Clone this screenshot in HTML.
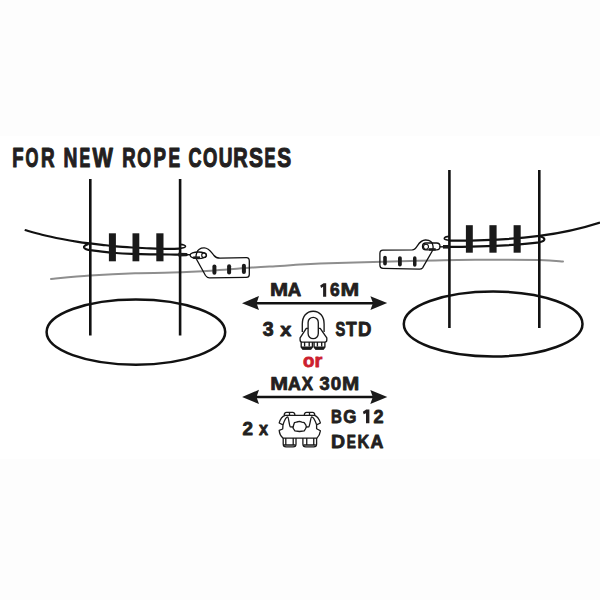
<!DOCTYPE html>
<html><head><meta charset="utf-8">
<style>
html,body{margin:0;padding:0;background:#fdfdfd;width:600px;height:600px;overflow:hidden}
svg{display:block}
text{font-family:"Liberation Sans",sans-serif;font-weight:bold;fill:#231f20;stroke:#231f20;stroke-width:0.9;stroke-linejoin:round}
</style></head><body>
<svg width="600" height="600" viewBox="0 0 600 600">
<rect width="600" height="600" fill="#fdfdfd"/>
<rect x="0" y="136" width="600" height="323" fill="#fff"/>
<!-- title -->

<!-- grey rope -->
<path d="M51.0,279.00 C57.5,278.43 76.0,276.57 90.0,275.60 C104.0,274.63 121.3,273.70 135.0,273.20 C148.7,272.70 158.7,273.07 172.0,272.60 C185.3,272.13 201.7,271.23 215.0,270.40 C228.3,269.57 241.2,268.33 252.0,267.60 C262.8,266.87 272.0,266.50 280.0,266.00 C288.0,265.50 293.3,265.00 300.0,264.60 C306.7,264.20 310.8,263.95 320.0,263.60 C329.2,263.25 340.0,262.93 355.0,262.50 C370.0,262.07 390.0,261.45 410.0,261.00 C430.0,260.55 453.5,259.97 475.0,259.80 C496.5,259.63 524.3,259.72 539.0,260.00 C553.7,260.28 559.0,261.25 563.0,261.50" fill="none" stroke="#8e8e8e" stroke-width="2" stroke-linecap="round"/>

<g fill="none" stroke="#111" stroke-linecap="butt">
<!-- ellipses -->
<ellipse cx="135.9" cy="332.1" rx="89.3" ry="32.6" stroke-width="2.5"/>
<ellipse cx="493.15" cy="324" rx="89.35" ry="32.5" stroke-width="2.5"/>
<!-- poles -->
<line x1="90.3" y1="179" x2="90.3" y2="335.5" stroke-width="2.6"/>
<line x1="180.1" y1="179" x2="180.1" y2="335.5" stroke-width="2.6"/>
<line x1="449.4" y1="170" x2="449.4" y2="328" stroke-width="2.6"/>
<line x1="539.3" y1="170" x2="539.3" y2="328" stroke-width="2.6"/>

<!-- left bracket ropes -->
<path d="M24.7,230.00 C27.6,230.78 35.8,233.20 42.0,234.70 C48.2,236.20 56.0,237.82 62.0,239.00 C68.0,240.18 73.3,241.07 78.0,241.80 C82.7,242.53 86.0,242.90 90.0,243.40 C94.0,243.90 97.7,244.30 102.0,244.80 C106.3,245.30 111.0,245.95 116.0,246.40 C121.0,246.85 126.3,247.17 132.0,247.50 C137.7,247.83 143.7,248.17 150.0,248.40 C156.3,248.63 164.8,248.88 170.0,248.90 C175.2,248.92 179.2,248.57 181.0,248.50" stroke-width="2.2"/>
<path d="M180,244.4 C183.5,244.4 185.8,245.6 185.5,246.6 C185.2,247.6 182.5,248.2 180,248.4" stroke-width="1.6"/>
<path d="M88.6,243.9 C85.5,244.8 83.6,246.2 84,247.3 C84.6,248.8 87.3,249.8 90.0,250.20 C92.0,250.43 97.7,251.13 102.0,251.60 C106.3,252.07 111.0,252.63 116.0,253.00 C121.0,253.37 126.3,253.58 132.0,253.80 C137.7,254.02 143.7,254.18 150.0,254.30 C156.3,254.42 163.8,254.45 170.0,254.50 C176.2,254.55 184.2,254.58 187.0,254.60" stroke-width="2.2"/>
<path d="M178.3,252.7 L186.5,252.9 L188,254 L188,255.2 L186.5,256.3 L178.3,256.5 Z" fill="#1a1a1a" stroke="none"/>
<path d="M186,254.7 L190.5,254.7" stroke-width="1.4"/>

<!-- right bracket ropes -->
<path d="M449.6,240.6 C490,240.9 520,238.4 539.3,235.9 C560,233.2 580,229 600,222.5" stroke-width="2.2"/>
<path d="M449.6,236.4 C443,236.8 442,240 449.6,240.2" stroke-width="1.6"/>
<path d="M443,246.9 C480,246.8 515,245.5 539.5,242.3 C546,240.8 546,237.7 539.5,236.2" stroke-width="2.2"/>
<rect x="443" y="245" width="7" height="3.6" fill="#1a1a1a" stroke="none"/>
<path d="M439.5,246.8 L443,246.8" stroke-width="1.4"/>

<!-- clamps -->
<g fill="#1a1a1a" stroke="none">
<rect x="108.9" y="233.3" width="7" height="28"/>
<rect x="132.5" y="233.3" width="6.8" height="28"/>
<rect x="156.3" y="233.3" width="7.2" height="28"/>
<rect x="465.9" y="225.2" width="6.9" height="27.5"/>
<rect x="489.4" y="225.2" width="7.2" height="27.5"/>
<rect x="513.6" y="225.2" width="7.1" height="27.5"/>
</g>

<!-- left plate -->
<path d="M196.7,253 C198,249 201,247.8 204.3,247.9 C209,248 211,252 214,255.5 C215.5,257.5 217,258.1 220,258.1 L246.5,257.6 C248.5,257.6 249.3,258.8 249.3,261 L249.3,274.5 C249.3,276.6 248.3,277.4 246.3,277.4 L209.5,277.9 C207.5,277.9 206.5,277 205.5,275.5 L196.5,259.3 C195.8,257.5 196,255 196.7,253 Z" stroke-width="1.3"/>
<ellipse cx="198.3" cy="255.3" rx="8.2" ry="3.3" stroke-width="1.3"/>
<rect x="193.2" y="256.4" width="6.8" height="2.6" fill="#1a1a1a" stroke="none"/>
<circle cx="204" cy="255.2" r="2.3" stroke-width="1.1"/>
<g fill="#1a1a1a" stroke="none">
<rect x="212.4" y="264.5" width="4" height="10.3" rx="2"/>
<rect x="227.1" y="264.2" width="4" height="10.3" rx="2"/>
<rect x="241.9" y="263.7" width="4" height="10.3" rx="2"/>
</g>

<!-- right plate -->
<path d="M433,246 C432.5,242 429.5,239.9 425.4,240 C421.5,240.1 419.5,242.5 417.5,245.6 C416,248 414.5,249.8 412.3,249.9 L383,250.1 C380.8,250.1 379.9,251.2 379.9,253.5 L379.9,265.3 C379.9,267.3 380.9,268.3 383,268.3 L419.5,269.2 C421,269.2 421.8,268.8 422.6,267.8 L432.4,250.8 C433,249.5 433.2,247.5 433,246 Z" stroke-width="1.3"/>
<rect x="422.5" y="243" width="17.5" height="6.8" rx="3.4" stroke-width="1.3"/>
<circle cx="426" cy="246.8" r="2.5" stroke-width="1.1"/>
<g fill="#1a1a1a" stroke="none">
<rect x="429" y="248.2" width="6.7" height="2.5"/>
<rect x="383.2" y="255.8" width="3.6" height="9.8" rx="1.8"/>
<rect x="398" y="256.2" width="3.8" height="10.2" rx="1.9"/>
<rect x="413" y="256.3" width="3.5" height="10.4" rx="1.75"/>
</g>

<!-- arrows -->
<line x1="252" y1="303.2" x2="377" y2="303.2" stroke-width="2.5"/>
<line x1="252" y1="397" x2="377" y2="397" stroke-width="2.5"/>
</g>
<g fill="#1a1a1a" stroke="none">
<path d="M242,303.2 L259,296 L256.6,303.2 L259,310 Z"/>
<path d="M387.2,303.1 L370.4,296.2 L373,303.1 L370.4,310 Z"/>
<path d="M242.1,397 L259,389.8 L256.5,397 L259,404 Z"/>
<path d="M387.3,397 L370.3,389.9 L372.8,397 L370.3,404.1 Z"/>
</g>

<!-- texts -->
<text vector-effect="non-scaling-stroke" transform="translate(12.16,166.80) scale(0.6872,1)" font-size="26.96" style="stroke-width:1.00;fill:#231f20;stroke:#231f20">F</text>
<text vector-effect="non-scaling-stroke" transform="translate(25.62,166.80) scale(0.6138,1)" font-size="26.96" style="stroke-width:1.00;fill:#231f20;stroke:#231f20">O</text>
<text vector-effect="non-scaling-stroke" transform="translate(40.94,166.80) scale(0.7011,1)" font-size="26.96" style="stroke-width:1.00;fill:#231f20;stroke:#231f20">R</text>
<text vector-effect="non-scaling-stroke" transform="translate(63.61,166.80) scale(0.7129,1)" font-size="26.96" style="stroke-width:1.00;fill:#231f20;stroke:#231f20">N</text>
<text vector-effect="non-scaling-stroke" transform="translate(79.43,166.80) scale(0.5950,1)" font-size="26.96" style="stroke-width:1.00;fill:#231f20;stroke:#231f20">E</text>
<text vector-effect="non-scaling-stroke" transform="translate(92.48,166.80) scale(0.7993,1)" font-size="26.96" style="stroke-width:1.00;fill:#231f20;stroke:#231f20">W</text>
<text vector-effect="non-scaling-stroke" transform="translate(122.26,166.80) scale(0.6895,1)" font-size="26.96" style="stroke-width:1.00;fill:#231f20;stroke:#231f20">R</text>
<text vector-effect="non-scaling-stroke" transform="translate(137.27,166.80) scale(0.6565,1)" font-size="26.96" style="stroke-width:1.00;fill:#231f20;stroke:#231f20">O</text>
<text vector-effect="non-scaling-stroke" transform="translate(153.45,166.80) scale(0.6947,1)" font-size="26.96" style="stroke-width:1.00;fill:#231f20;stroke:#231f20">P</text>
<text vector-effect="non-scaling-stroke" transform="translate(168.53,166.80) scale(0.6478,1)" font-size="26.96" style="stroke-width:1.00;fill:#231f20;stroke:#231f20">E</text>
<text vector-effect="non-scaling-stroke" transform="translate(188.46,166.80) scale(0.6694,1)" font-size="26.96" style="stroke-width:1.00;fill:#231f20;stroke:#231f20">C</text>
<text vector-effect="non-scaling-stroke" transform="translate(203.04,166.80) scale(0.6832,1)" font-size="26.96" style="stroke-width:1.00;fill:#231f20;stroke:#231f20">O</text>
<text vector-effect="non-scaling-stroke" transform="translate(218.76,166.80) scale(0.7034,1)" font-size="26.96" style="stroke-width:1.00;fill:#231f20;stroke:#231f20">U</text>
<text vector-effect="non-scaling-stroke" transform="translate(233.26,166.80) scale(0.7420,1)" font-size="26.96" style="stroke-width:1.00;fill:#231f20;stroke:#231f20">R</text>
<text vector-effect="non-scaling-stroke" transform="translate(249.09,166.80) scale(0.7800,1)" font-size="26.96" style="stroke-width:1.00;fill:#231f20;stroke:#231f20">S</text>
<text vector-effect="non-scaling-stroke" transform="translate(264.49,166.80) scale(0.6148,1)" font-size="26.96" style="stroke-width:1.00;fill:#231f20;stroke:#231f20">E</text>
<text vector-effect="non-scaling-stroke" transform="translate(277.20,166.80) scale(0.7738,1)" font-size="26.96" style="stroke-width:1.00;fill:#231f20;stroke:#231f20">S</text>
<text vector-effect="non-scaling-stroke" transform="translate(269.95,296.40) scale(1.1505,1)" font-size="18.90" style="stroke-width:0.80;fill:#231f20;stroke:#231f20">M</text>
<text vector-effect="non-scaling-stroke" transform="translate(287.64,296.40) scale(0.9860,1)" font-size="18.90" style="stroke-width:0.80;fill:#231f20;stroke:#231f20">A</text>
<text vector-effect="non-scaling-stroke" transform="translate(340.60,296.40) scale(1.1883,1)" font-size="18.90" style="stroke-width:0.80;fill:#231f20;stroke:#231f20">M</text>
<text vector-effect="non-scaling-stroke" transform="translate(329.96,296.40) scale(0.9196,1)" font-size="18.90" style="stroke-width:0.80;fill:#231f20;stroke:#231f20">6</text>
<text vector-effect="non-scaling-stroke" transform="translate(262.70,335.85) scale(1.0019,1)" font-size="19.48" style="stroke-width:0.90;fill:#231f20;stroke:#231f20">3</text>
<text vector-effect="non-scaling-stroke" transform="translate(280.31,335.85) scale(1.0423,1)" font-size="19.12" style="stroke-width:0.90;fill:#231f20;stroke:#231f20">x</text>
<text vector-effect="non-scaling-stroke" transform="translate(335.38,336.30) scale(0.7541,1)" font-size="19.48" style="stroke-width:0.80;fill:#231f20;stroke:#231f20">S</text>
<text vector-effect="non-scaling-stroke" transform="translate(345.90,336.30) scale(0.8980,1)" font-size="19.48" style="stroke-width:0.80;fill:#231f20;stroke:#231f20">T</text>
<text vector-effect="non-scaling-stroke" transform="translate(357.96,336.30) scale(0.9544,1)" font-size="19.48" style="stroke-width:0.80;fill:#231f20;stroke:#231f20">D</text>
<text vector-effect="non-scaling-stroke" transform="translate(302.92,367.20) scale(1.0279,1)" font-size="18.17" style="stroke-width:0.80;fill:#cc1f30;stroke:#cc1f30">o</text>
<text vector-effect="non-scaling-stroke" transform="translate(314.57,367.20) scale(1.1074,1)" font-size="18.17" style="stroke-width:0.80;fill:#cc1f30;stroke:#cc1f30">r</text>
<text vector-effect="non-scaling-stroke" transform="translate(270.22,390.35) scale(1.1359,1)" font-size="18.82" style="stroke-width:0.80;fill:#231f20;stroke:#231f20">M</text>
<text vector-effect="non-scaling-stroke" transform="translate(287.96,390.35) scale(0.9463,1)" font-size="18.82" style="stroke-width:0.80;fill:#231f20;stroke:#231f20">A</text>
<text vector-effect="non-scaling-stroke" transform="translate(301.75,390.35) scale(0.8958,1)" font-size="18.82" style="stroke-width:0.80;fill:#231f20;stroke:#231f20">X</text>
<text vector-effect="non-scaling-stroke" transform="translate(319.48,390.35) scale(0.9726,1)" font-size="18.82" style="stroke-width:0.80;fill:#231f20;stroke:#231f20">3</text>
<text vector-effect="non-scaling-stroke" transform="translate(330.66,390.35) scale(0.9998,1)" font-size="18.82" style="stroke-width:0.80;fill:#231f20;stroke:#231f20">0</text>
<text vector-effect="non-scaling-stroke" transform="translate(342.02,390.35) scale(1.0979,1)" font-size="18.82" style="stroke-width:0.80;fill:#231f20;stroke:#231f20">M</text>
<text vector-effect="non-scaling-stroke" transform="translate(242.54,435.40) scale(1.0159,1)" font-size="18.60" style="stroke-width:0.80;fill:#231f20;stroke:#231f20">2</text>
<text vector-effect="non-scaling-stroke" transform="translate(258.99,435.40) scale(0.9126,1)" font-size="17.79" style="stroke-width:0.80;fill:#231f20;stroke:#231f20">x</text>
<text vector-effect="non-scaling-stroke" transform="translate(330.89,422.85) scale(0.7892,1)" font-size="19.11" style="stroke-width:0.80;fill:#231f20;stroke:#231f20">B</text>
<text vector-effect="non-scaling-stroke" transform="translate(343.20,422.85) scale(0.8877,1)" font-size="19.11" style="stroke-width:0.80;fill:#231f20;stroke:#231f20">G</text>
<text vector-effect="non-scaling-stroke" transform="translate(373.57,422.85) scale(0.9454,1)" font-size="19.11" style="stroke-width:0.80;fill:#231f20;stroke:#231f20">2</text>
<text vector-effect="non-scaling-stroke" transform="translate(331.10,447.85) scale(1.0556,1)" font-size="18.46" style="stroke-width:0.80;fill:#231f20;stroke:#231f20">D</text>
<text vector-effect="non-scaling-stroke" transform="translate(346.73,447.85) scale(0.7435,1)" font-size="18.46" style="stroke-width:0.80;fill:#231f20;stroke:#231f20">E</text>
<text vector-effect="non-scaling-stroke" transform="translate(357.57,447.85) scale(0.8763,1)" font-size="18.46" style="stroke-width:0.80;fill:#231f20;stroke:#231f20">K</text>
<text vector-effect="non-scaling-stroke" transform="translate(370.46,447.85) scale(0.9649,1)" font-size="18.46" style="stroke-width:0.80;fill:#231f20;stroke:#231f20">A</text>
<path d="M320.2,285.4 L323.6,283.2 L326.2,283.2 L326.2,296.8 L323.1,296.8 L323.1,286.8 L321.1,288 Z" fill="#231f20"/>
<path d="M362.9,411.7 L366.2,409.6 L369.4,409.6 L369.4,423.3 L366,423.3 L366,413.2 L363.7,414.3 Z" fill="#231f20"/>

<!-- clip 1 (U-bolt) -->
<g fill="none" stroke="#1a1a1a" stroke-width="1.35" stroke-linejoin="round">
<path d="M302.3,332 L302.3,324 C302.3,316.5 306.5,311.2 313.2,311.2 C319.9,311.2 324.1,316.5 324.1,324 L324.1,332"/>
<path d="M302,342.1 Q300.1,342.1 300.1,340 L300.1,337.9 L306.3,328.3 L320.2,328.3 L326.8,337.9 L326.8,340 Q326.8,342.1 324.9,342.1 Z" fill="#fff"/>
<rect x="308.1" y="317.3" width="10.2" height="21.4" rx="5.1" fill="#fff"/>
<path d="M301.2,342.1 L301.2,347 L302.8,349 L310.8,349 L312.4,347 L312.4,342.1 M314.1,342.1 L314.1,347 L315.7,349 L323.3,349 L324.9,347 L324.9,342.1"/>
<path d="M304.6,342.1 L304.6,346.5 M309.2,342.1 L309.2,346.5 M317.4,342.1 L317.4,346.5 M321.7,342.1 L321.7,346.5"/>
<path d="M301.2,346.6 L312.4,346.6 L311,349.4 L302.6,349.4 Z M314.1,346.6 L324.9,346.6 L323.5,349.4 L315.5,349.4 Z" fill="#1a1a1a" stroke="none"/>
</g>

<!-- clip 2 (BG DEKA) -->
<g fill="none" stroke="#1a1a1a" stroke-width="1.3" stroke-linejoin="round">
<path d="M285.1,415.4 L314.5,415.4 C317.5,416.5 319.5,420 320.4,423 L316.6,424.8 L316.6,428.7 L320.4,430.8 C320,434 318.5,436.5 316.9,438.1 L283,438.1 C281,436.5 279.5,434 279.2,430.4 L282.7,429 L283,424.8 L279.2,423 C280,420 282,416.5 285.1,415.4 Z" fill="#fff"/>
<path d="M283,424.8 C284.5,420 286,416.8 287.8,416.8 C288.5,417 289.5,426.6 290.2,426.8 L293.2,427"/>
<path d="M316.6,424.8 C315,420 313.5,416.8 311.6,416.8 C310.8,417 309.6,426.6 308.9,426.8 L306.1,427"/>
<path d="M293.5,425.5 L294.4,422.7 L296.8,422 L299.5,421.3 L301.9,422.1 L304.2,422.6 L305.9,425.2 L306.3,426.9 L305.4,429 L304.2,430.8 L299.5,431.5 L294.9,430.8 L293,428 Z"/>
<path d="M284.2,415.3 C284.2,413 285,412.3 286.5,412.3 L292.7,412.3 C294.2,412.3 294.9,413 294.9,415.3 M304.3,415.3 C304.3,413 305,412.3 306.5,412.3 L312.6,412.3 C314.1,412.3 314.8,413 314.8,415.3 M289.5,412.5 L289.5,415 M309.5,412.5 L309.5,415"/>
<path d="M283.2,438.1 L283.2,444 C283.2,446 284.5,446.9 286,446.9 L293.2,446.9 C294.7,446.9 296,446 296,444 L296,438.1"/>
<path d="M302.9,438.1 L302.9,444 C302.9,446 304.2,446.9 305.7,446.9 L313.8,446.9 C315.3,446.9 316.6,446 316.6,444 L316.6,438.1"/>
<path d="M285.8,438.1 L285.8,444.5 M293.2,438.1 L293.2,444.5 M306.75,438.1 L306.75,444.5 M313.75,438.1 L313.75,444.5 M284,445 L295.2,445 M303.7,445 L315.8,445" />
</g>
</svg>
</body></html>
